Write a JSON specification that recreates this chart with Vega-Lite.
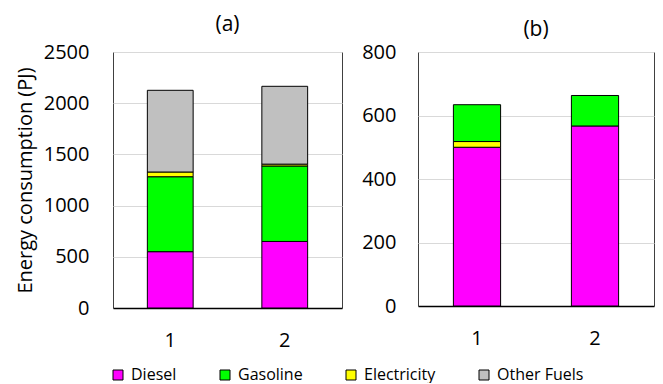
{
  "$schema": "https://vega.github.io/schema/vega-lite/v6.json",
  "padding": {"left": 14, "top": 13, "right": 3, "bottom": 0},
  "bounds": "flush",
  "spacing": 76,
  "data": {"values": [
    {"panel": "a", "group": "1", "fuel": "Diesel", "value": 550, "order": 1},
    {"panel": "a", "group": "1", "fuel": "Gasoline", "value": 732, "order": 2},
    {"panel": "a", "group": "1", "fuel": "Electricity", "value": 46, "order": 3},
    {"panel": "a", "group": "1", "fuel": "Other Fuels", "value": 798, "order": 4},
    {"panel": "a", "group": "2", "fuel": "Diesel", "value": 650, "order": 1},
    {"panel": "a", "group": "2", "fuel": "Gasoline", "value": 737, "order": 2},
    {"panel": "a", "group": "2", "fuel": "Electricity", "value": 18, "order": 3},
    {"panel": "a", "group": "2", "fuel": "Other Fuels", "value": 760, "order": 4},
    {"panel": "b", "group": "1", "fuel": "Diesel", "value": 500, "order": 1},
    {"panel": "b", "group": "1", "fuel": "Electricity", "value": 18, "order": 2},
    {"panel": "b", "group": "1", "fuel": "Gasoline", "value": 116, "order": 3},
    {"panel": "b", "group": "2", "fuel": "Diesel", "value": 567, "order": 1},
    {"panel": "b", "group": "2", "fuel": "Gasoline", "value": 96, "order": 3}
  ]},
  "config": {
    "font": "Open Sans",
    "view": {"stroke": "#404040", "strokeWidth": 1},
    "axis": {
      "labelFont": "Open Sans", "labelFontSize": 20, "labelColor": "#000",
      "ticks": false, "domain": false, "gridColor": "#d9d9d9", "gridWidth": 1,
      "titleFont": "Open Sans", "titleFontWeight": "normal", "titleColor": "#000"
    },
    "title": {"font": "Open Sans", "fontSize": 21, "fontWeight": "normal", "color": "#000", "anchor": "middle", "frame": "group"},
    "legend": {
      "orient": "none", "legendX": -3, "legendY": 315, "direction": "horizontal",
      "symbolType": "square", "symbolSize": 100, "symbolStrokeColor": "#000", "symbolStrokeWidth": 1,
      "labelFont": "Open Sans", "labelFontSize": 16, "labelColor": "#000", "columnPadding": 40,
      "labelOffset": 5, "padding": 0, "labelLimit": 300
    }
  },
  "resolve": {"scale": {"y": "independent", "color": "shared"}},
  "hconcat": [
    {
      "width": 229, "height": 256,
      "title": {"text": "(a)", "offset": 7},
      "transform": [{"filter": "datum.panel == 'a'"}],
      "mark": {"type": "bar", "stroke": "#000", "strokeWidth": 1},
      "encoding": {
        "x": {"field": "group", "type": "ordinal", "scale": {"paddingInner": 0.6, "paddingOuter": 0.3},
              "axis": {"title": null, "labelAngle": 0, "labelPadding": 22, "domain": true, "domainColor": "#000", "domainWidth": 1.5}},
        "y": {"field": "value", "type": "quantitative", "stack": "zero",
              "scale": {"domain": [0, 2500], "nice": false},
              "axis": {"title": "Energy consumption (PJ)", "titleFontSize": 20, "titlePadding": 8, "labelPadding": 24, "format": "d",
                       "values": [0, 500, 1000, 1500, 2000, 2500], "grid": true}},
        "order": {"field": "order", "type": "quantitative"},
        "color": {"field": "fuel", "type": "nominal",
                  "scale": {"domain": ["Diesel", "Gasoline", "Electricity", "Other Fuels"],
                            "range": ["#ff00ff", "#00ff00", "#ffff00", "#c0c0c0"]},
                  "legend": {"title": null}}
      }
    },
    {
      "width": 236, "height": 254,
      "title": {"text": "(b)", "offset": 2},
      "transform": [{"filter": "datum.panel == 'b'"}],
      "mark": {"type": "bar", "stroke": "#000", "strokeWidth": 1},
      "encoding": {
        "x": {"field": "group", "type": "ordinal", "scale": {"paddingInner": 0.6, "paddingOuter": 0.3},
              "axis": {"title": null, "labelAngle": 0, "labelPadding": 22, "domain": true, "domainColor": "#000", "domainWidth": 1.5}},
        "y": {"field": "value", "type": "quantitative", "stack": "zero",
              "scale": {"domain": [0, 800], "nice": false},
              "axis": {"title": null, "labelPadding": 22, "format": "d", "values": [0, 200, 400, 600, 800], "grid": true}},
        "order": {"field": "order", "type": "quantitative"},
        "color": {"field": "fuel", "type": "nominal",
                  "scale": {"domain": ["Diesel", "Gasoline", "Electricity", "Other Fuels"],
                            "range": ["#ff00ff", "#00ff00", "#ffff00", "#c0c0c0"]},
                  "legend": {"title": null}}
      }
    }
  ]
}
